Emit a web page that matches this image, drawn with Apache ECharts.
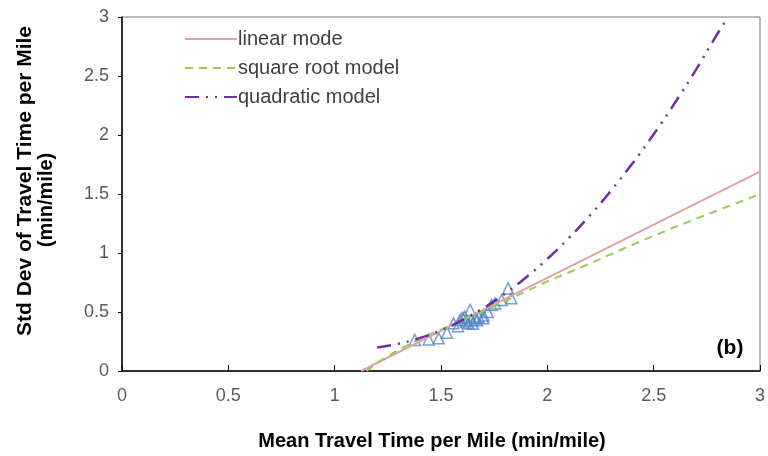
<!DOCTYPE html>
<html>
<head>
<meta charset="utf-8">
<script src="https://cdn.jsdelivr.net/npm/echarts@6/dist/echarts.min.js"></script>
<style>
  html, body { margin: 0; padding: 0; background: #fff; }
  #chart { width: 768px; height: 456px; }
</style>
</head>
<body>
<div id="chart"></div>
<script>
// Observed mean vs. std dev of travel time per mile
const observed = [
  [1.377, 0.263], [1.442, 0.268], [1.489, 0.277], [1.528, 0.325],
  [1.559, 0.404], [1.580, 0.380], [1.590, 0.432], [1.600, 0.450],
  [1.611, 0.460], [1.620, 0.420], [1.629, 0.404], [1.637, 0.517],
  [1.645, 0.432], [1.650, 0.400], [1.661, 0.446], [1.670, 0.430],
  [1.676, 0.460], [1.699, 0.446], [1.700, 0.470], [1.720, 0.500],
  [1.738, 0.559], [1.754, 0.573], [1.785, 0.602], [1.816, 0.700],
  [1.831, 0.616]
];

// Fitted model curves
const linearModel = [
  [1.124, 0], [1.5, 0.34], [2.0, 0.79], [2.5, 1.24], [3.0, 1.69]
];
const sqrtModel = [
  [1.15, 0], [1.2, 0.07], [1.3, 0.18], [1.4, 0.27], [1.5, 0.35],
  [1.6, 0.43], [1.7, 0.51], [1.8, 0.59], [2.0, 0.76], [2.2, 0.91],
  [2.4, 1.07], [2.6, 1.22], [2.8, 1.36], [3.0, 1.50]
];
const quadraticModel = [
  [1.2, 0.20], [1.3, 0.231], [1.4, 0.279], [1.5, 0.345], [1.6, 0.431],
  [1.7, 0.533], [1.8, 0.654], [1.9, 0.793], [2.0, 0.95], [2.1, 1.125],
  [2.2, 1.318], [2.3, 1.529], [2.4, 1.759], [2.5, 2.006], [2.6, 2.273],
  [2.7, 2.556], [2.8, 2.858], [2.85, 3.0]
];

const seriesNames = ['linear mode', 'square root model', 'quadratic model'];
const xTitle = 'Mean Travel Time per Mile (min/mile)';
const yTitleLines = ['Std Dev of Travel Time per Mile', '(min/mile)'];
const panelTag = '(b)';

const chart = echarts.init(document.getElementById('chart'), null, { renderer: 'canvas' });

const tickFont = { fontFamily: 'Liberation Sans', fontSize: 18, color: '#595959' };

chart.setOption({
  animation: false,
  backgroundColor: '#fff',
  grid: {
    left: 122, right: 5, top: 17, bottom: 85,
    show: true, borderColor: '#777', borderWidth: 1
  },
  legend: {
    data: seriesNames,
    orient: 'vertical',
    left: 179, top: 24,
    itemWidth: 52, itemHeight: 12, itemGap: 9,
    itemStyle: { opacity: 0 },
    textStyle: { fontFamily: 'Liberation Sans', fontSize: 20, color: '#404040', padding: [0, 0, 0, -4] }
  },
  xAxis: {
    type: 'value', min: 0, max: 3, interval: 0.5,
    axisLine: { show: true, onZero: false, lineStyle: { color: '#000', width: 1.5 } },
    axisTick: { show: true, inside: true, length: 6, lineStyle: { color: '#000' } },
    axisLabel: Object.assign({ margin: 16 }, tickFont),
    splitLine: { show: false }
  },
  yAxis: {
    type: 'value', min: 0, max: 3, interval: 0.5,
    axisLine: { show: true, onZero: false, lineStyle: { color: '#000', width: 1.5 } },
    axisTick: { show: true, inside: false, length: 4, lineStyle: { color: '#000' } },
    axisLabel: Object.assign({ margin: 13 }, tickFont),
    splitLine: { show: false }
  },
  graphic: [
    {
      type: 'text', x: 432, y: 441,
      style: {
        text: xTitle,
        font: 'bold 20px "Liberation Sans"',
        fill: '#000', align: 'center', verticalAlign: 'middle'
      }
    },
    {
      type: 'text', x: 25, y: 181, rotation: Math.PI / 2,
      style: {
        text: yTitleLines[0],
        font: 'bold 21px "Liberation Sans"',
        fill: '#000', align: 'center', verticalAlign: 'middle'
      }
    },
    {
      type: 'text', x: 46, y: 200, rotation: Math.PI / 2,
      style: {
        text: yTitleLines[1],
        font: 'bold 20px "Liberation Sans"',
        fill: '#000', align: 'center', verticalAlign: 'middle'
      }
    },
    {
      type: 'text', x: 730, y: 348,
      style: {
        text: panelTag,
        font: 'bold 21px "Liberation Sans"',
        fill: '#000', align: 'center', verticalAlign: 'middle'
      }
    }
  ],
  series: [
    {
      name: 'observed', type: 'scatter', data: observed,
      symbol: 'triangle', symbolSize: 11, z: 1,
      itemStyle: { color: 'rgba(255,255,255,0)', borderColor: '#4f86c6', borderWidth: 1.5 }
    },
    {
      name: seriesNames[0], type: 'line', data: linearModel,
      showSymbol: false, symbol: 'none', z: 3,
      lineStyle: { color: '#e0a0a4', width: 2 }, itemStyle: { color: '#e0a0a4' }
    },
    {
      name: seriesNames[1], type: 'line', data: sqrtModel,
      showSymbol: false, symbol: 'none', z: 3,
      lineStyle: { color: '#92d050', width: 2, type: [8, 6] }, itemStyle: { color: '#92d050' }
    },
    {
      name: seriesNames[2], type: 'line', data: quadraticModel, smooth: true,
      showSymbol: false, symbol: 'none', z: 4,
      lineStyle: { color: '#7030a0', width: 2.5, type: [14, 7, 2, 7, 2, 7] }, itemStyle: { color: '#7030a0' }
    }
  ]
});
</script>
</body>
</html>
